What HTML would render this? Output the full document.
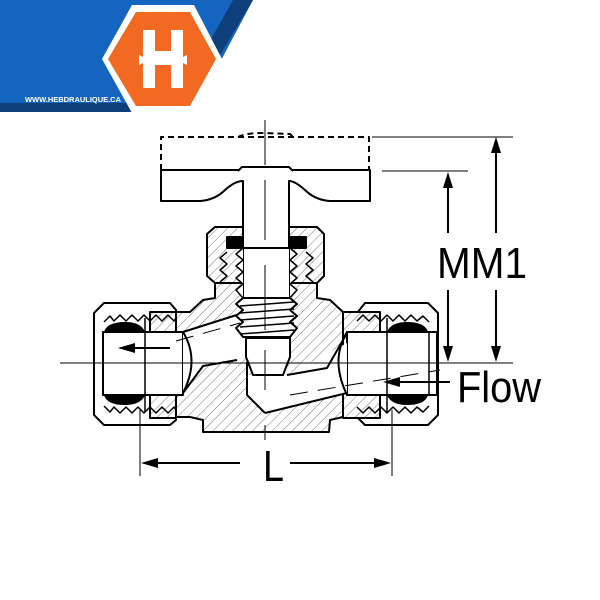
<!DOCTYPE html>
<html><head><style>
html,body{margin:0;padding:0;background:#fff;width:600px;height:600px;overflow:hidden}
svg{display:block}
</style></head><body>
<svg width="600" height="600" viewBox="0 0 600 600" xmlns="http://www.w3.org/2000/svg">
<defs>
<pattern id="h" width="7" height="7" patternUnits="userSpaceOnUse" patternTransform="rotate(45)">
<rect width="7" height="7" fill="#fff"/><line x1="0" y1="0" x2="0" y2="7" stroke="#555" stroke-width="0.8"/>
</pattern>
</defs>
<!-- logo -->
<polygon points="0,0 253,0 200,100 125,112 0,112" fill="#1565c0"/>
<polygon points="233,0 253,0 217,60 205,50" fill="#0d3f7a"/>
<rect x="0" y="103" width="135" height="9" fill="#0d3f7a"/>
<polygon points="132,5 194,5 222,59 194,113 132,113 102,59" fill="#fff"/>
<polygon points="136,12 190,12 216,59 190,106 136,106 108,59" fill="#f26a21"/>
<path d="M143,30 h12 v21 h16 v-21 h12 v58 h-12 v-23 h-16 v23 h-12 z M139,55 l4,2 v6 l-4,2z M187,55 l-4,2 v6 l4,2z" fill="#fff"/>
<text x="25" y="102" font-family="Liberation Sans, sans-serif" font-size="7.5" fill="#fff" font-weight="bold" textLength="96" lengthAdjust="spacingAndGlyphs">WWW.HEBDRAULIQUE.CA</text>

<g stroke="#000" fill="none" stroke-width="2" stroke-linejoin="round">
<path d="M161,170 V137 H369 V170" stroke-dasharray="6,4"/>
<path d="M238,137 Q245,133 265,133 L290,134 L293,137" stroke-dasharray="6,4"/>
<polygon fill="url(#h)" points="150,312 190,312 203,300 215,298 215,283 317,283 317,298 330,300 343,312 380,312 380,417 343,417 330,420 329,432 203,432 203,420 190,417 150,417"/>
<polygon fill="url(#h)" points="215,227 317,227 324,234 324,276 317,283 215,283 207,276 207,234"/>
<polygon fill="#fff" points="104,303 170,303 176,310 176,313 150,313 150,417 176,417 176,420 170,425 104,425 94,415 94,313"/>
<polygon fill="url(#h)" points="150,312 176,312 176,418 150,418"/>
<polyline points="104,322 110,316 114,321 120,315 126,321 132,315 138,321 144,315 150,321 156,315 162,321 168,315 174,321 176,318" stroke-width="1.5"/>
<polyline points="104,406 110,412 114,407 120,413 126,407 132,413 138,407 144,413 150,407 156,413 162,407 168,413 174,407 176,410" stroke-width="1.5"/>
<polygon fill="#fff" points="365,303 428,303 438,313 438,415 428,425 365,425 357,417 357,313"/>
<polygon fill="url(#h)" points="343,312 380,312 380,418 343,418"/>
<polyline points="357,321 363,315 369,321 375,315 381,321 387,315 393,321 399,315 405,321 411,315 417,321 423,316 429,322" stroke-width="1.5"/>
<polyline points="357,407 363,413 369,407 375,413 381,407 387,413 393,407 399,413 405,407 411,413 417,407 423,412 429,406" stroke-width="1.5"/>
<rect x="103" y="332" width="80" height="63" fill="#fff"/>
<rect x="347" y="332" width="90" height="63" fill="#fff"/>
<polygon fill="#fff" stroke="none" points="183,332 243,313 247,357 203,364 183,393"/>
<path d="M183,332 L243,313 M183,393 L203,366 L237,360 M183,332 Q200,360 183,393"/>
<polygon fill="#fff" stroke="none" points="253,375 287,375 347,343 347,393 265,413 247,395 247,375"/>
<path d="M287,375 L327,368 L347,333 M265,413 L347,393 M347,332 Q330,360 347,395"/>
<path d="M247,362 V395 L265,413" />
<line x1="176" y1="341" x2="240" y2="323" stroke-width="1" stroke-dasharray="18,10"/>
<line x1="290" y1="395" x2="440" y2="370" stroke-width="1" stroke-dasharray="18,10"/>
<path d="M105,332 Q108,323 125,323 Q140,323 144,332 Z" fill="#000"/>
<path d="M105,395 Q108,404 125,404 Q140,404 144,395 Z" fill="#000"/>
<path d="M427,332 Q424,323 407,323 Q392,323 388,332 Z" fill="#000"/>
<path d="M427,395 Q424,404 407,404 Q392,404 388,395 Z" fill="#000"/>
<line x1="145" y1="318" x2="145" y2="412" stroke-width="1.5"/>
<line x1="387" y1="318" x2="387" y2="412" stroke-width="1.5"/>
<line x1="429" y1="332" x2="429" y2="395" stroke-width="1.5"/>
<rect x="227" y="237" width="16" height="11" fill="#000"/>
<rect x="290" y="237" width="16" height="11" fill="#000"/>
<rect x="243" y="248" width="47" height="50" fill="#fff"/>
<polyline fill="#fff" points="243,248 236,254 243,260 236,266 243,272 236,278 243,284 236,290 243,298" stroke-width="1.5"/>
<polyline fill="#fff" points="290,248 297,254 290,260 297,266 290,272 297,278 290,284 297,290 290,298" stroke-width="1.5"/>
<polyline points="227,252 220,258 227,264 220,270 227,276 220,282" stroke-width="1.5"/>
<polyline points="306,252 313,258 306,264 313,270 306,276 313,282" stroke-width="1.5"/>
<polygon fill="#fff" points="243,298 290,298 297,304 290,310 297,316 290,322 297,328 290,337 243,337 236,328 243,322 236,316 243,310 236,304"/>
<line x1="240" y1="306" x2="294" y2="302" stroke-width="1.5"/>
<line x1="240" y1="313" x2="294" y2="309" stroke-width="1.5"/>
<line x1="240" y1="320" x2="294" y2="316" stroke-width="1.5"/>
<line x1="240" y1="327" x2="294" y2="323" stroke-width="1.5"/>
<line x1="240" y1="334" x2="294" y2="330" stroke-width="1.5"/>
<polygon fill="#fff" points="246,338 290,338 290,357 283,375 253,375 246,357"/>
<path d="M161,170 H370 V201 H330 Q315,200 305,190 Q295,181 289,181 V248 H243 V181 Q235,181 225,190 Q215,200 200,201 H161 Z" fill="#fff"/>
<path d="M238,171 L242,167 H289 L293,171" fill="#fff"/>
<line x1="243" y1="248" x2="290" y2="248"/>
</g>
<g stroke="#000" stroke-width="1">
<line x1="265" y1="120" x2="265" y2="165"/>
<line x1="265" y1="180" x2="265" y2="240"/>
<line x1="265" y1="265" x2="265" y2="330"/>
<line x1="265" y1="350" x2="265" y2="390"/>
<line x1="265" y1="425" x2="265" y2="440"/>
<line x1="60" y1="363" x2="513" y2="363"/>
<line x1="372" y1="137" x2="513" y2="137"/>
<line x1="382" y1="171" x2="468" y2="171"/>
<line x1="140" y1="410" x2="140" y2="476"/>
<line x1="392" y1="410" x2="392" y2="476"/>
</g>
<g stroke="#000" stroke-width="2">
<line x1="448" y1="185" x2="448" y2="233"/><line x1="448" y1="290" x2="448" y2="350"/>
<line x1="496" y1="150" x2="496" y2="233"/><line x1="496" y1="290" x2="496" y2="350"/>
<line x1="155" y1="463" x2="240" y2="463"/><line x1="290" y1="463" x2="377" y2="463"/>
<line x1="130" y1="348" x2="170" y2="348"/>
<line x1="395" y1="382" x2="450" y2="382"/>
</g>
<g fill="#000">
<polygon points="448,172 443,188 453,188"/><polygon points="448,362 443,346 453,346"/>
<polygon points="496,137 491,153 501,153"/><polygon points="496,362 491,346 501,346"/>
<polygon points="141,463 158,458 158,468"/><polygon points="391,463 374,458 374,468"/>
<polygon points="118,348 135,343 135,353"/>
<polygon points="383,382 400,377 400,387"/>
</g>
<g font-family="Liberation Sans, sans-serif" fill="#000">
<text x="437" y="278" font-size="44" textLength="90" lengthAdjust="spacingAndGlyphs">MM1</text>
<text x="457" y="402" font-size="44" textLength="84" lengthAdjust="spacingAndGlyphs">Flow</text>
<text x="263" y="481" font-size="44" textLength="21" lengthAdjust="spacingAndGlyphs">L</text>
</g>
</svg>
</body></html>
